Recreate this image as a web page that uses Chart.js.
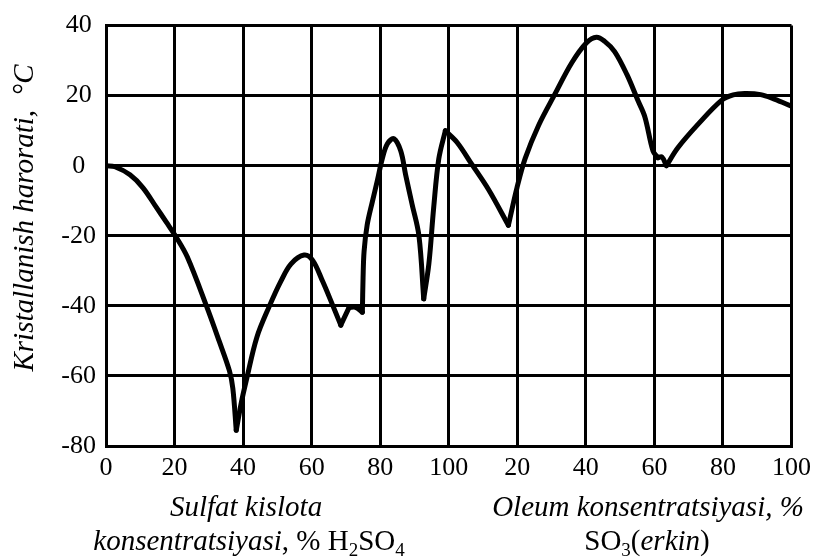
<!DOCTYPE html>
<html>
<head>
<meta charset="utf-8">
<script src="https://cdn.jsdelivr.net/npm/chart.js@4.4.0/dist/chart.umd.min.js"></script>
<style>
  body { margin: 0; background: #fff; }
  #wrap { width: 818px; height: 557px; position: relative; }
</style>
</head>
<body>
<div id="wrap"><canvas id="chart"></canvas></div>
<script>
// x 0..100 = % H2SO4, x 100..200 = oleum (100 + % free SO3)
const concentration = [0, 2.6, 7, 10.8, 14.7, 17.6, 20.5, 23.7, 29.3, 33, 36, 37, 38, 39.4, 41, 44, 47.7,
  51, 54, 57.8, 60.3, 63.2, 66, 68.5, 70.9, 72.8, 74.8, 75, 75.3, 76.2, 77.7, 79.2, 80.6, 82.1, 84,
  86, 87.4, 89.3, 91.3, 92.7, 94.2, 95.6, 97.1, 99, 102.4, 106.8, 111.6, 117.4, 119.9, 122.3, 126.2,
  131, 135.9, 140.2, 143.1, 145.5, 148.4, 152, 155.2, 157.2, 159.6, 161, 162.2, 163.5, 166.9, 172.7,
  179.5, 183, 186.3, 191, 195, 200];
const temperature = [0, -0.3, -2.6, -6.3, -11.9, -16.1, -20.4, -26, -40, -50, -58.5, -63.5, -75.5, -68, -61, -49, -40,
  -33, -28, -25.5, -27, -33, -39.5, -45.5, -40.5, -40.4, -41.8, -32, -24.4, -16.9, -10.3, -4.1, 2, 6.3, 7.7,
  4.2, -2.5, -11, -20, -38, -28, -12, 2, 10, 6.7, 0.3, -6.8, -17, -6.3, 2.1, 11.5,
  20.5, 29.4, 35.1, 36.7, 35.5, 32.6, 26, 18.6, 14, 4.2, 2.3, 2.5, 0, 5.2, 11.8,
  18.6, 20.2, 20.6, 20.3, 19, 17];
// sharp corners (eutectic points) where the smooth branches meet
const cusps = [38, 68.5, 70.9, 74.8, 92.7, 99, 117.4, 161, 163.5];

const yTitle = 'Kristallanish harorati,  °C';
const xTitleLeft1 = 'Sulfat kislota';
const xTitleRight1 = 'Oleum konsentratsiyasi, %';

const serif = '"Liberation Serif", "Times New Roman", serif';

function drawRuns(ctx, runs, cx, baseline) {
  let total = 0;
  runs.forEach(r => {
    ctx.font = r.style + ' ' + r.size + 'px ' + serif;
    r.w = ctx.measureText(r.text).width;
    total += r.w;
  });
  let x = cx - total / 2;
  runs.forEach(r => {
    ctx.font = r.style + ' ' + r.size + 'px ' + serif;
    ctx.fillText(r.text, x, baseline + (r.dy || 0));
    x += r.w;
  });
}

const titles = {
  id: 'titles',
  afterDraw(chart) {
    const ctx = chart.ctx;
    ctx.save();
    ctx.fillStyle = '#000';
    ctx.textAlign = 'left';
    ctx.textBaseline = 'alphabetic';
    const it = 'italic', up = 'normal', fs = 29, sub = 19;
    drawRuns(ctx, [{text: xTitleLeft1, style: it, size: fs}], 246, 516);
    drawRuns(ctx, [
      {text: 'konsentratsiyasi', style: it, size: fs},
      {text: ', % ', style: up, size: fs},
      {text: 'H', style: up, size: fs},
      {text: '2', style: up, size: sub, dy: 6},
      {text: 'SO', style: up, size: fs},
      {text: '4', style: up, size: sub, dy: 6}
    ], 249, 550);
    drawRuns(ctx, [{text: xTitleRight1, style: it, size: fs}], 648, 516);
    drawRuns(ctx, [
      {text: 'SO', style: up, size: fs},
      {text: '3', style: up, size: sub, dy: 6},
      {text: '(', style: up, size: fs},
      {text: 'erkin', style: it, size: fs},
      {text: ')', style: up, size: fs}
    ], 647, 550);
    ctx.translate(33, 218);
    ctx.rotate(-Math.PI / 2);
    drawRuns(ctx, [{text: yTitle, style: it, size: fs}], 0, 0);
    ctx.restore();
  }
};

// split the curve into smooth branches at the cusps
const branches = [[]];
concentration.forEach((c, i) => {
  const p = {x: c, y: temperature[i]};
  branches[branches.length - 1].push(p);
  if (cusps.includes(c)) branches.push([p]);
});

const datasets = branches.filter(b => b.length > 1).map(b => ({
  data: b,
  borderColor: '#000',
  borderWidth: 5,
  pointRadius: 0,
  tension: 0.35,
  borderJoinStyle: 'round',
  borderCapStyle: 'round',
  fill: false
}));

new Chart(document.getElementById('chart'), {
  type: 'line',
  data: { datasets: datasets },
  options: {
    responsive: true,
    maintainAspectRatio: false,
    animation: false,
    layout: { padding: { top: 21, right: 24, left: 0, bottom: 0 } },
    plugins: {
      legend: { display: false },
      tooltip: { enabled: false }
    },
    scales: {
      x: {
        type: 'linear',
        min: 0,
        max: 200,
        afterFit: s => { s.height = 111; },
        grid: { color: '#000', lineWidth: 3, drawTicks: false },
        border: { color: '#000', width: 3 },
        ticks: {
          stepSize: 20,
          autoSkip: false,
          maxRotation: 0,
          padding: 7,
          color: '#000',
          font: { family: serif, size: 26 },
          callback: v => v > 100 ? v - 100 : v
        }
      },
      y: {
        min: -80,
        max: 40,
        afterFit: s => { s.width = 106; },
        grid: { color: '#000', lineWidth: 3, drawTicks: false },
        border: { color: '#000', width: 3 },
        ticks: {
          stepSize: 20,
          padding: 10,
          crossAlign: 'center',
          color: '#000',
          font: { family: serif, size: 26 }
        }
      }
    }
  },
  plugins: [titles]
});
</script>
</body>
</html>
